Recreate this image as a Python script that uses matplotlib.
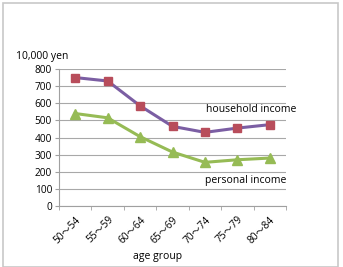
import matplotlib
matplotlib.use("Agg")
import matplotlib.pyplot as plt
from matplotlib.patches import Rectangle
import numpy as np

categories = ["50～54", "55～59", "60～64", "65～69", "70～74", "75～79", "80～84"]
household = [750, 730, 585, 465, 430, 455, 475]
personal = [540, 515, 405, 315, 255, 270, 280]
yticks = [0, 100, 200, 300, 400, 500, 600, 700, 800]

plt.rcParams['font.family'] = ['Open Sans', 'Noto Sans CJK JP', 'DejaVu Sans']

fig = plt.figure(figsize=(3.43, 2.67), dpi=100)
fig.patch.set_facecolor('white')
fig.patches.append(Rectangle((3/343, 0), 335/343, 1 - 3/267, transform=fig.transFigure,
                             fill=False, edgecolor='#c8c8c8', linewidth=1.2))

ax = fig.add_axes([59/343, 1 - 206/267, 227/343, 137/267])
x = np.arange(len(categories))
ax.plot(x, household, color='#7b5ea3', linewidth=2.2, marker='s', markersize=6,
        markerfacecolor='#b84d5b', markeredgecolor='#b84d5b', zorder=3)
ax.plot(x, personal, color='#96bb55', linewidth=2.2, marker='^', markersize=6.5,
        markerfacecolor='#96bb55', markeredgecolor='#96bb55', zorder=3)

ax.set_xlim(-0.5, len(categories) - 0.5)
ax.set_ylim(0, 800)
ax.set_yticks(yticks)
ax.set_yticklabels([str(v) for v in yticks], fontsize=7.3)
ax.set_xticks(x)
ax.set_xticklabels(categories, rotation=45, ha='right', rotation_mode='anchor', fontsize=7.3)
ax.tick_params(axis='x', length=0, pad=6)
ax.set_xticks(np.arange(-0.5, len(categories)), minor=True)
ax.tick_params(axis='x', which='minor', length=3, color='#a0a0a0')
ax.tick_params(axis='y', length=3, color='#a0a0a0', pad=2)
ax.grid(axis='y', color='#a8a8a8', linewidth=0.8)
ax.set_axisbelow(True)
for s in ['top', 'right']:
    ax.spines[s].set_visible(False)
for s in ['left', 'bottom']:
    ax.spines[s].set_color('#a0a0a0')
    ax.spines[s].set_linewidth(0.8)

fig.text(16/343, 1 - 57/267, "10,000 yen", fontsize=7.5, va='center', ha='left')
fig.text(206/343, 1 - 109/267, "household income", fontsize=7.5, va='center', ha='left')
fig.text(205/343, 1 - 181/267, "personal income", fontsize=7.5, va='center', ha='left')
fig.text(158/343, 1 - 256/267, "age group", fontsize=7.5, va='center', ha='center')

fig.savefig("out.png", dpi=100)
